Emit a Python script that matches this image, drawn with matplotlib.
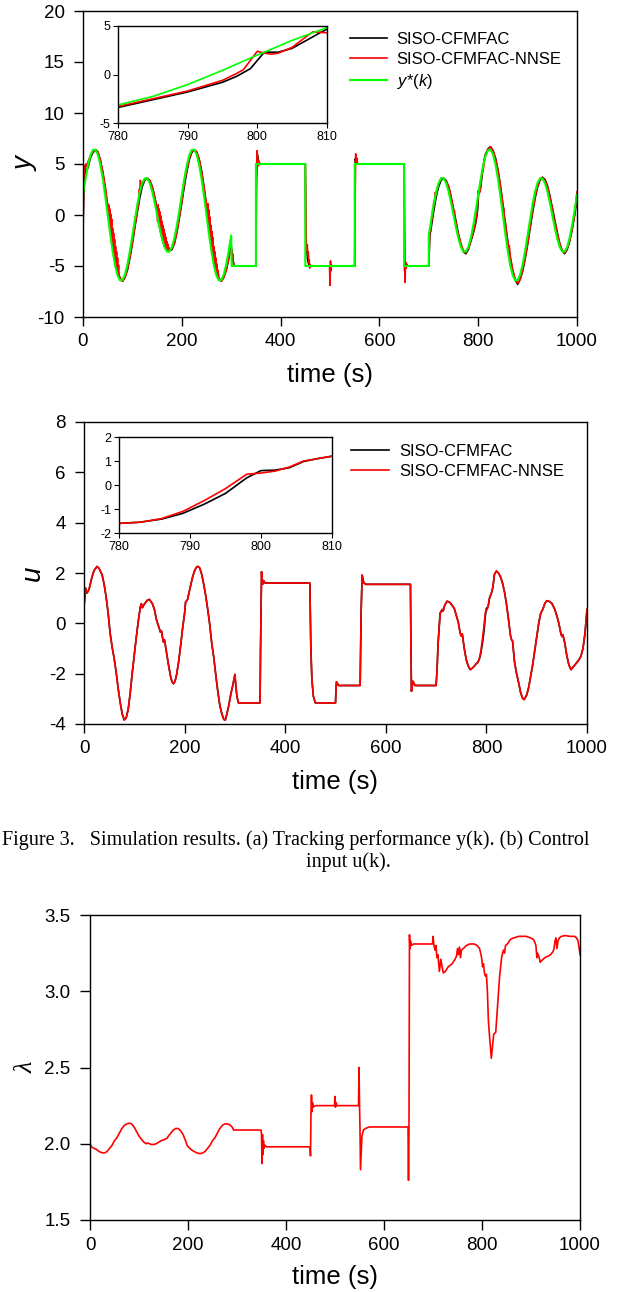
import matplotlib
matplotlib.use('Agg')
import matplotlib.pyplot as plt

plt.rcParams['font.family'] = ['Liberation Sans', 'DejaVu Sans']
plt.rcParams['axes.unicode_minus'] = False
plt.rcParams['mathtext.fontset'] = 'custom'
plt.rcParams['mathtext.it'] = 'Liberation Sans:italic'
plt.rcParams['mathtext.rm'] = 'Liberation Sans'

# ---------------- data: panel (a) tracking performance ----------------
t_ref = [0, 5, 10, 15, 20, 25, 30, 35, 40, 45, 50, 55, 60, 65, 70, 75, 80, 85, 90, 95,
         100, 105, 110, 115, 120, 125, 130, 135, 140, 145, 150, 155, 160, 165, 170, 175,
         180, 185, 190, 195, 200, 205, 210, 215, 220, 225, 230, 235, 240, 245, 250, 255,
         260, 265, 270, 275, 280, 285, 290, 295, 300, 301, 350, 350, 450, 450, 550, 550,
         650, 650, 700, 700, 705, 710, 715, 720, 725, 730, 735, 740, 745, 750, 755, 760,
         765, 770, 775, 780, 785, 790, 795, 800, 805, 810, 815, 820, 825, 830, 835, 840,
         845, 850, 855, 860, 865, 870, 875, 880, 885, 890, 895, 900, 905, 910, 915, 920,
         925, 930, 935, 940, 945, 950, 955, 960, 965, 970, 975, 980, 985, 990, 995, 1000]
y_ref = [2.00, 3.52, 4.84, 5.83, 6.37, 6.41, 5.93, 4.95, 3.56, 1.86, 0.00, -1.86, -3.56, -4.95,
         -5.93, -6.41, -6.37, -5.83, -4.84, -3.52, -2.00, -0.43, 1.04, 2.26, 3.14, 3.59, 3.58,
         3.14, 2.32, 1.23, 0.00, -1.23, -2.32, -3.14, -3.58, -3.59, -3.14, -2.26, -1.04, 0.43,
         2.00, 3.52, 4.84, 5.83, 6.37, 6.41, 5.93, 4.95, 3.56, 1.86, 0.00, -1.86, -3.56, -4.95,
         -5.93, -6.41, -6.37, -5.83, -4.84, -3.52, -2.00, -5.00, -5.00, 5.00, 5.00, -5.00,
         -5.00, 5.00, 5.00, -5.00, -5.00, -2.00, -0.43, 1.04, 2.26, 3.14, 3.59, 3.58, 3.14,
         2.32, 1.23, 0.00, -1.23, -2.32, -3.14, -3.58, -3.59, -3.14, -2.26, -1.04, 0.43, 2.00,
         3.52, 4.84, 5.83, 6.37, 6.41, 5.93, 4.95, 3.56, 1.86, 0.00, -1.86, -3.56, -4.95, -5.93,
         -6.41, -6.37, -5.83, -4.84, -3.52, -2.00, -0.43, 1.04, 2.26, 3.14, 3.59, 3.58, 3.14,
         2.32, 1.23, 0.00, -1.23, -2.32, -3.14, -3.58, -3.59, -3.14, -2.26, -1.04, 0.43, 2.00]

t_y_cf = [0, 2, 5, 10, 15, 20, 25, 30, 35, 40, 45, 50, 55, 60, 65, 70, 75, 80, 85, 90, 95,
          100, 105, 110, 115, 120, 125, 130, 135, 140, 145, 150, 155, 160, 165, 170, 175, 180,
          185, 190, 195, 200, 205, 210, 215, 220, 225, 230, 235, 240, 245, 250, 255, 260, 265,
          270, 275, 280, 285, 290, 295, 300, 303, 306, 350, 351, 353, 356, 450, 451, 455, 458,
          500, 501, 503, 550, 551, 554, 650, 651, 654, 700, 702, 705, 710, 715, 720, 725, 730,
          735, 740, 745, 750, 755, 760, 765, 770, 775, 780, 785, 790, 795, 797, 799, 801, 803,
          805, 807, 809, 812, 815, 820, 825, 830, 835, 840, 845, 850, 855, 860, 865, 870, 875,
          880, 885, 890, 895, 900, 905, 910, 915, 920, 925, 930, 935, 940, 945, 950, 955, 960,
          965, 970, 975, 980, 985, 990, 995, 1000]
y_cf = [-1.7, 3.0, 4.3, 4.6, 5.6, 6.1, 6.4, 6.2, 5.4, 4.2, 2.6, 0.9, -1.0, -2.8, -4.3, -5.5,
        -6.2, -6.5, -6.1, -5.4, -4.2, -2.8, -1.2, 0.3, 1.7, 2.8, 3.4, 3.6, 3.4, 2.8, 1.8, 0.6,
        -0.6, -1.8, -2.7, -3.3, -3.5, -3.4, -2.8, -1.7, -0.3, 1.2, 2.8, 4.2, 5.4, 6.1, 6.4, 6.2,
        5.5, 4.3, 2.7, 0.9, -1.0, -2.8, -4.3, -5.5, -6.2, -6.5, -6.1, -5.4, -4.3, -3.0, -4.3,
        -5.0, -5.0, 3.5, 6.0, 5.0, 5.0, -2.5, -4.5, -5.0, -5.0, -5.5, -5.0, -5.0, 5.5, 5.0, 5.0,
        -5.5, -5.0, -5.0, -2.0, -1.2, 0.4, 1.8, 2.8, 3.4, 3.6, 3.4, 2.8, 1.8, 0.6, -0.6, -1.9,
        -2.9, -3.6, -3.8, -3.4, -2.6, -1.8, -0.8, -0.2, 0.6, 2.3, 2.3, 2.7, 3.5, 4.3, 5.4, 6.0,
        6.5, 6.7, 6.3, 5.6, 4.4, 2.8, 1.0, -0.9, -2.7, -4.2, -5.5, -6.4, -6.8, -6.3, -5.5, -4.3,
        -2.9, -1.3, 0.2, 1.6, 2.7, 3.4, 3.7, 3.5, 2.9, 1.9, 0.7, -0.5, -1.7, -2.8, -3.5, -3.8,
        -3.4, -2.6, -1.5, -0.1, 1.5]

t_y_nn = [0, 1, 2, 3, 4, 5, 6, 8, 10, 15, 20, 25, 30, 35, 40, 45, 48, 50, 51, 52, 53, 54, 55,
          56, 57, 58, 59, 60, 61, 62, 63, 64, 65, 66, 67, 68, 69, 70, 71, 72, 73, 75, 80, 85, 90,
          95, 100, 105, 110, 113, 114, 115, 116, 118, 120, 125, 130, 135, 140, 145, 148, 150,
          151, 152, 153, 154, 155, 156, 157, 158, 159, 160, 161, 162, 163, 164, 165, 166, 167,
          168, 169, 170, 171, 172, 173, 174, 175, 177, 180, 185, 190, 195, 200, 203, 204, 205,
          206, 210, 215, 220, 225, 230, 235, 240, 245, 250, 252, 253, 254, 255, 256, 257, 258,
          259, 260, 261, 262, 263, 264, 265, 266, 267, 268, 269, 270, 271, 272, 273, 275, 280,
          285, 290, 295, 298, 300, 302, 303, 305, 350, 351, 352, 353, 354, 355, 356, 358, 360,
          450, 451, 452, 453, 454, 455, 456, 457, 458, 459, 460, 462, 499, 500, 501, 502, 503,
          505, 550, 551, 552, 553, 554, 556, 650, 651, 652, 653, 654, 655, 657, 700, 701, 702,
          704, 705, 707, 708, 709, 710, 712, 713, 715, 716, 720, 725, 730, 735, 740, 743, 745,
          748, 750, 752, 753, 755, 757, 760, 765, 770, 775, 780, 785, 790, 795, 797, 798, 800,
          801, 802, 803, 805, 807, 808, 810, 812, 815, 817, 818, 820, 825, 830, 835, 840, 845,
          850, 852, 853, 855, 858, 860, 862, 863, 865, 870, 875, 880, 885, 890, 895, 900, 903,
          904, 905, 908, 910, 912, 913, 915, 920, 925, 930, 935, 940, 945, 948, 950, 952, 953,
          955, 957, 960, 965, 970, 975, 980, 985, 990, 995, 1000]
y_nn = [-1.7, 2.0, 4.0, 3.8, 4.9, 4.5, 5.0, 4.8, 5.2, 5.8, 6.2, 6.4, 6.2, 5.4, 4.3, 2.8, 1.6,
        1.0, -0.2, 1.0, -0.5, 0.6, -1.1, 0.1, -1.6, -0.4, -2.4, -1.3, -2.9, -1.8, -3.5, -2.4,
        -4.1, -3.1, -4.7, -3.6, -5.1, -4.2, -5.6, -4.9, -5.9,
        -6.2, -6.5, -6.1, -5.3, -4.1, -2.7, -1.1, 0.4, 1.2, 2.5, 2.2, 3.4, 3.0, 3.1, 3.5, 3.6,
        3.4, 2.8, 1.8, 1.0,
        0.8, -0.6, 1.0, -0.8, 0.6, -1.2, 0.3, -1.7, -0.1, -2.1, -0.6, -2.5, -1.0, -2.8, -1.4,
        -3.1, -1.8, -3.3, -2.2, -3.4, -2.6, -3.5, -2.9, -3.6, -3.2, -3.5,
        -3.4, -3.3, -2.8, -1.7, -0.2, 1.3, 2.3, 3.0, 2.9, 3.4, 4.3, 5.5, 6.2, 6.4, 6.2, 5.5,
        4.3, 2.7, 1.0,
        0.0, 1.1, -0.7, 0.5, -1.4, -0.2, -2.2, -1.0, -2.8, -1.6, -3.4, -2.2, -4.0, -3.1, -4.5,
        -3.6, -5.1, -4.2, -5.6, -4.8, -5.9, -5.4,
        -6.2, -6.5, -6.1, -5.4, -4.3, -3.6, -3.5, -4.2, -3.8, -5.0,
        -5.0, 2.0, 6.3, 5.8, 4.8, 5.4, 4.9, 5.1, 5.0, 5.0, 1.0, -2.7, -3.5, -2.9, -4.0, -3.6,
        -4.6, -4.4, -5.2, -4.9, -5.0, -5.0, -6.9, -4.5, -5.3, -4.9, -5.0, -5.0, 2.0, 6.0, 5.2,
        5.6, 5.0, 5.0, -2.0, -6.6, -4.6, -5.2, -4.8, -5.0, -5.0, -3.0, -1.3, -1.6, -0.8, -0.2,
        0.6, 0.3, 1.3, 1.4, 2.2, 2.0, 2.5, 3.1, 3.6, 3.6, 3.3, 2.8, 2.3, 1.8, 1.1, 0.5, 0.4,
        -0.6, -0.7, -1.4, -1.9, -2.8, -3.5, -3.7, -3.3, -2.5, -1.7, -0.6, 0.1, 0.5, 2.4, 2.2,
        2.1, 2.2, 2.8, 3.9, 4.4, 4.3, 5.2, 5.9, 6.0, 6.3, 6.4, 6.7, 6.3, 5.5, 4.4, 2.9, 1.0,
        0.6, -0.4, -0.7, -1.9, -2.6, -3.4, -3.0, -4.1, -5.4, -6.3, -6.7, -6.3, -5.4, -4.2,
        -2.8, -2.0, -1.2, -1.3, -0.2, 0.3, 1.2, 1.0, 1.8, 2.8, 3.5, 3.7, 3.4, 2.8, 1.8, 1.1,
        0.7, 0.3, -0.4, -0.6, -1.1, -1.8, -2.8, -3.5, -3.7, -3.3, -2.5, -1.4, 0.0, 2.3]

# ---------------- data: panel (b) control input ----------------
t_u = [0, 3, 6, 10, 16, 20, 26, 30, 36, 40, 44, 48, 52, 56, 60, 64, 68, 72, 76, 80, 84, 88,
       92, 96, 100, 104, 108, 112, 114, 116, 118, 122, 126, 130, 136, 140, 144, 148, 152, 154,
       156, 158, 160, 164, 168, 172, 175, 178, 181, 184, 188, 192, 196, 200, 202, 204, 206,
       208, 212, 216, 220, 224, 227, 230, 234, 238, 242, 246, 250, 254, 258, 262, 266, 270,
       274, 278, 281, 284, 288, 292, 296, 300, 302, 304, 307, 350, 351, 353, 355, 357, 360,
       449, 451, 453, 456, 460, 500, 501, 502, 506, 549, 551, 553, 556, 560, 649, 650, 651,
       654, 658, 700, 702, 704, 708, 712, 714, 716, 718, 722, 728, 736, 744, 748, 750, 752,
       756, 760, 764, 768, 772, 776, 780, 783, 786, 789, 792, 795, 798, 800, 802, 804, 806,
       808, 810, 813, 816, 820, 824, 828, 832, 836, 840, 844, 848, 850, 852, 856, 860, 864,
       868, 872, 875, 880, 884, 888, 892, 896, 900, 904, 908, 912, 916, 920, 924, 930, 936,
       940, 944, 948, 950, 952, 956, 960, 964, 968, 972, 976, 980, 984, 988, 992, 996, 1000]
u_nn = [0.65, 1.40, 1.20, 1.35, 1.85, 2.10, 2.26, 2.18, 1.93, 1.55, 1.05, 0.40, -0.40, -0.95,
        -1.40, -1.95, -2.60, -3.15, -3.60, -3.84, -3.75, -3.40, -2.75, -1.95, -1.25, -0.55,
        0.10, 0.65, 0.78, 0.62, 0.70, 0.82, 0.92, 0.95, 0.78, 0.55, 0.15, -0.10, -0.35, -0.30,
        -0.55, -0.75, -0.65, -1.15, -1.65, -2.10, -2.32, -2.40, -2.30, -2.05, -1.55, -0.90,
        -0.20, 0.40, 0.85, 0.90, 0.95, 1.15, 1.50, 1.85, 2.10, 2.24, 2.26, 2.20, 1.95, 1.55,
        1.10, 0.55, -0.05, -0.80, -1.35, -2.05, -2.70, -3.25, -3.60, -3.82, -3.84, -3.60,
        -3.25, -2.80, -2.45, -2.03, -2.50, -2.90, -3.16, -3.16, -1.00, 2.05, 1.55, 1.70, 1.60,
        1.60, -1.00, -2.20, -2.90, -3.16, -3.16, -2.60, -2.32, -2.47, -2.47, 0.50, 1.92, 1.62,
        1.55, 1.55, -1.00, -2.70, -2.30, -2.47, -2.47, -1.80, -0.78, 0.40, 0.55, 0.48, 0.65,
        0.75, 0.88, 0.82, 0.60, 0.05, -0.40, -0.50, -0.42, -1.00, -1.45, -1.70, -1.84, -1.78,
        -1.70, -1.60, -1.55, -1.40, -1.10, -0.65, -0.15, 0.45, 0.50, 0.58, 0.75, 1.00, 1.10,
        1.20, 1.45, 1.95, 2.08, 2.00, 1.85, 1.60, 1.25, 0.75, 0.15, -0.50, -0.65, -0.70, -1.55,
        -2.00, -2.35, -2.75, -2.98, -3.03, -2.85, -2.55, -2.10, -1.65, -1.10, -0.55, 0.00,
        0.40, 0.55, 0.78, 0.90, 0.88, 0.80, 0.55, 0.30, 0.00, -0.40, -0.52, -0.45, -0.80,
        -1.30, -1.65, -1.84, -1.75, -1.65, -1.55, -1.45, -1.30, -1.00, -0.40, 0.55]
u_cf = [0.65, 1.40, 1.20, 1.35, 1.85, 2.10, 2.26, 2.18, 1.93, 1.55, 1.05, 0.40, -0.40, -0.95,
        -1.40, -1.95, -2.60, -3.15, -3.60, -3.84, -3.75, -3.40, -2.75, -1.95, -1.25, -0.55,
        0.10, 0.65, 0.78, 0.62, 0.70, 0.82, 0.92, 0.95, 0.78, 0.55, 0.15, -0.10, -0.35, -0.30,
        -0.55, -0.75, -0.65, -1.15, -1.65, -2.10, -2.32, -2.40, -2.30, -2.05, -1.55, -0.90,
        -0.20, 0.40, 0.85, 0.90, 0.95, 1.15, 1.50, 1.85, 2.10, 2.24, 2.26, 2.20, 1.95, 1.55,
        1.10, 0.55, -0.05, -0.80, -1.35, -2.05, -2.70, -3.25, -3.60, -3.82, -3.84, -3.60,
        -3.25, -2.80, -2.45, -2.03, -2.50, -2.90, -3.16, -3.16, -1.00, 2.05, 1.55, 1.70, 1.60,
        1.60, -1.00, -2.20, -2.90, -3.16, -3.16, -2.60, -2.32, -2.47, -2.47, 0.50, 1.92, 1.62,
        1.55, 1.55, -1.00, -2.70, -2.30, -2.47, -2.47, -1.80, -0.78, 0.40, 0.55, 0.48, 0.65,
        0.75, 0.88, 0.82, 0.60, 0.05, -0.40, -0.50, -0.42, -1.00, -1.45, -1.70, -1.84, -1.78,
        -1.70, -1.60, -1.55, -1.42, -1.18, -0.80, -0.35, 0.30, 0.60, 0.62, 0.72, 0.98, 1.10,
        1.20, 1.45, 1.95, 2.08, 2.00, 1.85, 1.60, 1.25, 0.75, 0.15, -0.50, -0.65, -0.70, -1.55,
        -2.00, -2.35, -2.75, -2.98, -3.03, -2.85, -2.55, -2.10, -1.65, -1.10, -0.55, 0.00,
        0.40, 0.55, 0.78, 0.90, 0.88, 0.80, 0.55, 0.30, 0.00, -0.40, -0.52, -0.45, -0.80,
        -1.30, -1.65, -1.84, -1.75, -1.65, -1.55, -1.45, -1.30, -1.00, -0.40, 0.55]

# ---------------- data: lambda ----------------
t_lam = [0, 3, 5, 8, 12, 18, 25, 30, 35, 40, 45, 50, 55, 60, 65, 70, 75, 80, 85, 90, 95, 100,
         105, 110, 115, 118, 125, 130, 135, 140, 145, 150, 153, 157, 160, 165, 170, 175, 180,
         185, 190, 195, 198, 202, 207, 212, 218, 225, 230, 235, 240, 245, 250, 255, 260, 265,
         270, 275, 280, 285, 290, 293, 297, 300, 349, 350, 351, 352, 353, 354, 355, 357, 360,
         449, 450, 451, 452, 453, 454, 456, 460, 499, 500, 501, 502, 504, 548, 549, 550, 551,
         552, 553, 555, 558, 562, 570, 649, 650, 651, 652, 653, 654, 656, 660, 699, 700, 702,
         704, 706, 708, 710, 713, 716, 718, 721, 725, 731, 739, 745, 748, 750, 752, 754, 756,
         758, 762, 768, 775, 784, 790, 795, 798, 800, 801, 803, 805, 807, 809, 811, 813, 816,
         819, 822, 824, 828, 832, 836, 840, 842, 844, 846, 848, 852, 858, 865, 875, 890, 899,
         905, 908, 910, 912, 913, 916, 919, 921, 925, 928, 935, 940, 945, 947, 949, 951, 953,
         955, 958, 962, 969, 980, 989, 993, 996, 998, 1000]
lam = [2.00, 1.98, 1.975, 1.97, 1.965, 1.95, 1.94, 1.94, 1.95, 1.97, 1.99, 2.02, 2.04, 2.07,
       2.10, 2.12, 2.13, 2.135, 2.13, 2.11, 2.08, 2.05, 2.03, 2.01, 2.00, 2.005, 1.995, 1.995,
       2.00, 2.01, 2.02, 2.025, 2.03, 2.035, 2.05, 2.07, 2.09, 2.10, 2.10, 2.085, 2.06, 2.02,
       1.99, 1.975, 1.96, 1.95, 1.94, 1.935, 1.94, 1.95, 1.97, 1.99, 2.02, 2.04, 2.07, 2.10,
       2.12, 2.13, 2.13, 2.125, 2.11, 2.09, 2.09, 2.09, 2.09, 2.06, 1.87, 2.06, 1.93, 2.02,
       1.97, 1.99, 1.98, 1.98, 1.92, 2.20, 2.32, 2.21, 2.27, 2.24, 2.25, 2.25, 2.31, 2.24,
       2.27, 2.25, 2.25, 2.50, 2.26, 2.10, 1.83, 1.90, 2.05, 2.09, 2.10, 2.11, 2.11, 1.76,
       2.10, 3.37, 3.28, 3.33, 3.30, 3.31, 3.31, 3.36, 3.30, 3.27, 3.30, 3.22, 3.24, 3.13,
       3.21, 3.17, 3.12, 3.13, 3.16, 3.18, 3.21, 3.23, 3.28, 3.24, 3.29, 3.22, 3.27, 3.28,
       3.30, 3.31, 3.31, 3.30, 3.28, 3.24, 3.20, 3.16, 3.18, 3.12, 3.10, 3.11, 3.00, 2.81,
       2.68, 2.56, 2.66, 2.72, 2.73, 2.92, 3.10, 3.22, 3.25, 3.27, 3.25, 3.30, 3.31, 3.34,
       3.35, 3.36, 3.36, 3.35, 3.34, 3.32, 3.30, 3.22, 3.25, 3.23, 3.19, 3.20, 3.21, 3.22,
       3.23, 3.24, 3.26, 3.28, 3.33, 3.35, 3.28, 3.33, 3.35, 3.36, 3.365, 3.36, 3.36, 3.35,
       3.33, 3.29, 3.24]

x_ticks = [0, 200, 400, 600, 800, 1000]
inset_x_ticks = [780, 790, 800, 810]
lab_cf = 'SISO-CFMFAC'
lab_nn = 'SISO-CFMFAC-NNSE'
lab_ref = '$y$*($k$)'
caption_1 = 'Figure 3.   Simulation results. (a) Tracking performance y(k). (b) Control'
caption_2 = 'input u(k).'

# ---------------- layout ----------------
W, H = 630, 1292
fig = plt.figure(figsize=(W / 100, H / 100), dpi=100)


def box(x0, y0, x1, y1):
    return [x0 / W, 1 - y1 / H, (x1 - x0) / W, (y1 - y0) / H]


GREEN = '#00ff00'
TICK_FS = 13.5
LAB_FS = 18.5
LW = 1.2


def style_main(ax, ticklen=6.8):
    ax.tick_params(direction='out', length=ticklen, width=1.0, labelsize=TICK_FS,
                   top=False, right=False)
    ax.tick_params(axis='x', pad=5)
    ax.tick_params(axis='y', pad=6.5)
    for s in ax.spines.values():
        s.set_linewidth(1.0)
    ax.set_xlim(0, 1000)
    ax.set_xticks(x_ticks)
    ax.set_xlabel('time (s)', fontsize=LAB_FS, va='center')


def style_inset(ax):
    ax.tick_params(direction='out', length=3.5, width=0.8, labelsize=9, pad=2,
                   top=False, right=False)
    for s in ax.spines.values():
        s.set_linewidth(1.0)
    ax.set_xlim(780, 810)
    ax.set_xticks(inset_x_ticks)


# ---- panel (a)
ax1 = fig.add_axes(box(83, 11, 577, 317))
ax1.plot(t_y_cf, y_cf, color='black', lw=LW, label=lab_cf)
ax1.plot(t_y_nn, y_nn, color='red', lw=LW, label=lab_nn)
ax1.plot(t_ref, y_ref, color=GREEN, lw=1.5, label=lab_ref)
ax1.set_ylim(-10, 20)
ax1.set_yticks([-10, -5, 0, 5, 10, 15, 20])
style_main(ax1)
ax1.xaxis.set_label_coords(0.5, -58 / 306)
ax1.set_ylabel('y', fontsize=20, style='italic', va='center')
ax1.yaxis.set_label_coords(-0.117, 0.5)
ax1.legend(loc='upper left', bbox_to_anchor=(350 / W, 1 - 32 / H), bbox_transform=fig.transFigure,
           frameon=False, fontsize=12, borderaxespad=0, borderpad=0, handlelength=2.2,
           handletextpad=0.6, labelspacing=0.3)

in1 = fig.add_axes(box(118, 26, 327, 123))
in1.plot(t_y_cf, y_cf, color='black', lw=1.2)
in1.plot(t_y_nn, y_nn, color='red', lw=1.2)
in1.plot(t_ref, y_ref, color=GREEN, lw=1.2)
in1.set_ylim(-5, 5)
in1.set_yticks([-5, 0, 5])
style_inset(in1)

# ---- panel (b)
ax2 = fig.add_axes(box(84, 422, 587, 724))
ax2.plot(t_u, u_cf, color='black', lw=LW, label=lab_cf)
ax2.plot(t_u, u_nn, color='red', lw=LW, label=lab_nn)
ax2.set_ylim(-4, 8)
ax2.set_yticks([-4, -2, 0, 2, 4, 6, 8])
style_main(ax2)
ax2.xaxis.set_label_coords(0.5, -58 / 302)
ax2.set_ylabel('u', fontsize=20, style='italic', va='center')
ax2.yaxis.set_label_coords(-0.101, 0.5)
ax2.legend(loc='upper left', bbox_to_anchor=(351 / W, 1 - 444 / H), bbox_transform=fig.transFigure,
           frameon=False, fontsize=12, borderaxespad=0, borderpad=0, handlelength=2.3,
           handletextpad=0.6, labelspacing=0.3)

in2 = fig.add_axes(box(119, 437, 332, 533))
in2.plot(t_u, u_cf, color='black', lw=1.2)
in2.plot(t_u, u_nn, color='red', lw=1.2)
in2.set_ylim(-2, 2)
in2.set_yticks([-2, -1, 0, 1, 2])
style_inset(in2)

# ---- caption
fig.text(2 / W, 1 - 840 / H, caption_1, ha='left', va='center',
         family=['Liberation Serif', 'DejaVu Serif'], fontsize=14.5)
fig.text(348 / W, 1 - 862 / H, caption_2, ha='center', va='center',
         family=['Liberation Serif', 'DejaVu Serif'], fontsize=14.5)

# ---- lambda panel
ax3 = fig.add_axes(box(90, 915, 580, 1220))
ax3.plot(t_lam, lam, color='red', lw=LW)
ax3.set_ylim(1.5, 3.5)
ax3.set_yticks([1.5, 2.0, 2.5, 3.0, 3.5])
ax3.set_yticklabels(['1.5', '2.0', '2.5', '3.0', '3.5'])
style_main(ax3, ticklen=7.5)
ax3.xaxis.set_label_coords(0.5, -57 / 305)
ax3.set_ylabel('λ', fontsize=19, style='italic', va='center',
               family=['Liberation Serif', 'DejaVu Serif'])
ax3.yaxis.set_label_coords(-0.13, 0.5)

fig.savefig('out.png', dpi=100)
